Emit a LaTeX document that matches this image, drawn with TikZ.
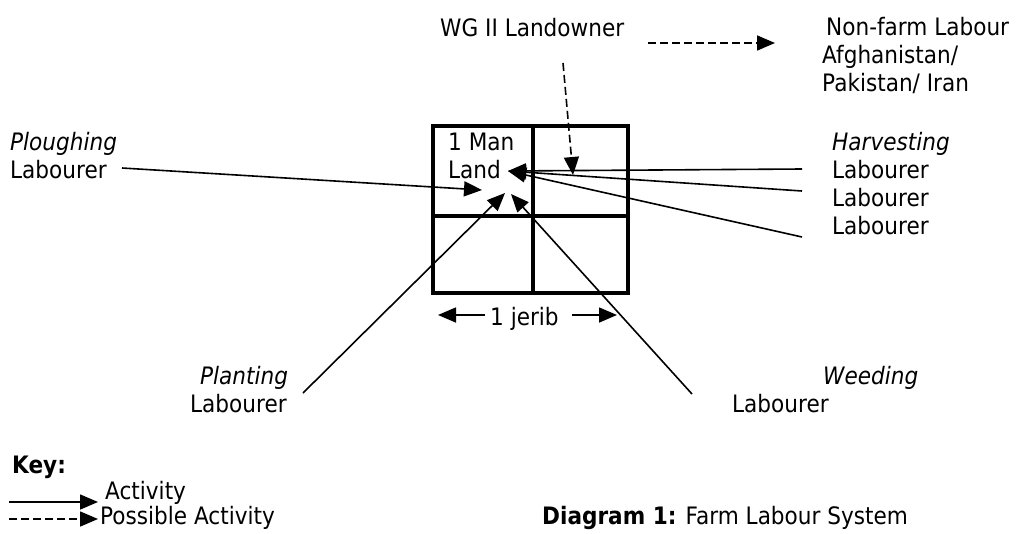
\documentclass[tikz,border=0pt]{standalone}
\usepackage{fontspec}
\setmainfont{DejaVu Sans}[FakeStretch=0.9]
\usetikzlibrary{arrows.meta}
\begin{document}
\begin{tikzpicture}[x=1pt,y=-1pt,
  every node/.style={font=\fontsize{24pt}{28pt}\selectfont, inner sep=0pt, anchor=base west},
  conn/.style={line width=1.6pt, -{Triangle[length=18pt,width=15pt]}},
  dconn/.style={conn, dash pattern=on 8pt off 4pt},
  gridline/.style={line width=3.2pt}]
\useasboundingbox (0,0) rectangle (1016,533);
% grid
\draw[gridline] (433,126) rectangle (628,293);
\draw[gridline] (533,126) -- (533,293);
\draw[gridline] (433,216) -- (628,216);
\node (man) at (448,150) {1 Man};
\node (land) at (448,178) {Land};
% targets
\coordinate (tp) at (482,190);
\coordinate (th) at (508,171);
\coordinate (tpl) at (505,193);
\coordinate (tw) at (511,194);
\coordinate (tl) at (573,175);
% labels
\node (plough) at (10,150) {\itshape Ploughing};
\node (ploughL) at (10,178) {Labourer};
\node (harv) at (832,150) {\itshape Harvesting};
\node (harvL1) at (832,178) {Labourer};
\node (harvL2) at (832,206) {Labourer};
\node (harvL3) at (832,234) {Labourer};
\node (plant) at (200,384) {\itshape Planting};
\node (plantL) at (190,412) {Labourer};
\node (weed) at (823,384) {\itshape Weeding};
\node (weedL) at (732,412) {Labourer};
\node (wg) at (440,36) {WG II Landowner};
\node (nf) at (826,35) {Non-farm Labour};
\node (af) at (822,63) {Afghanistan/};
\node (pk) at (822,91) {Pakistan/ Iran};
\node (jerib) at (490,325) {1 jerib};
\node (key) at (12,473) {\bfseries Key:};
\node (act) at (105,499) {Activity};
\node (pact) at (100,524) {Possible Activity};
\node (cap) at (542,524) {\textbf{Diagram 1:} Farm Labour System};
% connector start points
\coordinate (sp) at (122,168);
\coordinate (sh1) at (802,169);
\coordinate (sh2) at (802,191);
\coordinate (sh3) at (802,237);
\coordinate (spl) at (303,393);
\coordinate (sw) at (692,394);
\coordinate (sl) at (563,63);
\coordinate (snf) at (648,43);
\coordinate (tnf) at (775,43);
\coordinate (jl) at (485,315);
\coordinate (jlt) at (438,315);
\coordinate (jr) at (572,315);
\coordinate (jrt) at (617,315);
\coordinate (k1s) at (9,502);
\coordinate (k1t) at (98,502);
\coordinate (k2s) at (9,519);
\coordinate (k2t) at (98,519);
% connectors
\draw[conn] (sp) -- (tp);
\draw[conn] (sh1) -- (th);
\draw[conn] (sh2) -- (th);
\draw[conn] (sh3) -- (th);
\draw[conn] (spl) -- (tpl);
\draw[conn] (sw) -- (tw);
\draw[dconn] (sl) -- (tl);
\draw[dconn] (snf) -- (tnf);
\draw[conn] (jl) -- (jlt);
\draw[conn] (jr) -- (jrt);
\draw[conn] (k1s) -- (k1t);
\draw[dconn] (k2s) -- (k2t);
\end{tikzpicture}
\end{document}
